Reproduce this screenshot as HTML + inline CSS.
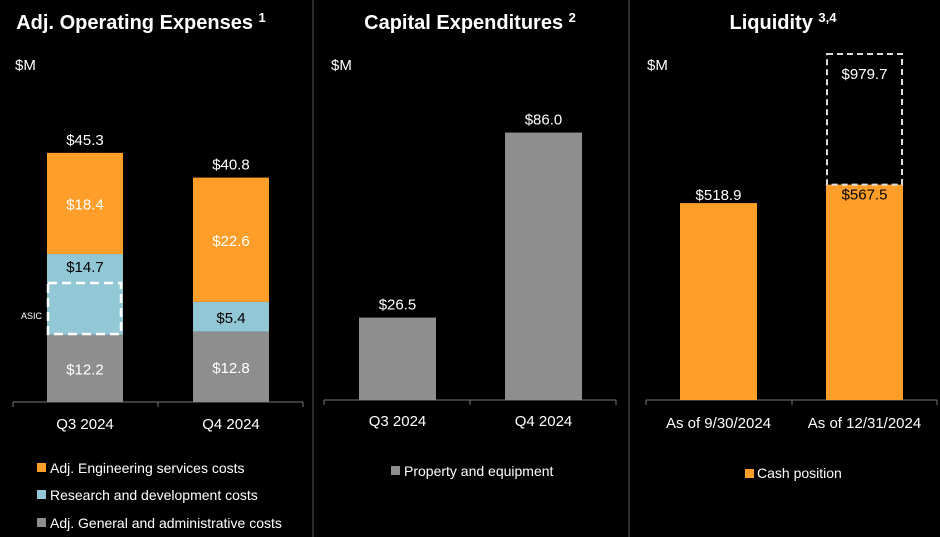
<!DOCTYPE html>
<html><head><meta charset="utf-8"><style>
html,body{margin:0;padding:0;background:#000;}
svg{display:block;font-family:"Liberation Sans",sans-serif;}
</style></head><body>
<svg id="c" width="940" height="537" viewBox="0 0 940 537">
<rect width="940" height="537" fill="#000"/>
<line x1="313" y1="0" x2="313" y2="537" stroke="#3a3a3a" stroke-width="1.5"/>
<line x1="629" y1="0" x2="629" y2="537" stroke="#3a3a3a" stroke-width="1.5"/>
<text x="141" y="29" fill="#fff" font-size="20" font-weight="bold" text-anchor="middle">Adj. Operating Expenses <tspan font-size="13" dy="-7">1</tspan></text>
<text x="470" y="29" fill="#fff" font-size="20" font-weight="bold" text-anchor="middle">Capital Expenditures <tspan font-size="13" dy="-7">2</tspan></text>
<text x="783" y="29" fill="#fff" font-size="20" font-weight="bold" text-anchor="middle">Liquidity <tspan font-size="13" dy="-7">3,4</tspan></text>
<text x="15" y="70" fill="#fff" font-size="15">$M</text>
<text x="331" y="70" fill="#fff" font-size="15">$M</text>
<text x="647" y="70" fill="#fff" font-size="15">$M</text>
<g id="g"></g>
</svg>
<script>
const opexCats=["Q3 2024","Q4 2024"];
const opexGA=[12.2,12.8];
const opexRD=[14.7,5.4];
const opexEng=[18.4,22.6];
const opexTotals=[45.3,40.8];
const capexCats=["Q3 2024","Q4 2024"];
const capexVals=[26.5,86.0];
const liqCats=["As of 9/30/2024","As of 12/31/2024"];
const liqCash=[518.9,567.5];
const liqTotal=[null,979.7];

const NS="http://www.w3.org/2000/svg";
const g=document.getElementById('g');
function el(tag,attrs,txt){const e=document.createElementNS(NS,tag);for(const k in attrs)e.setAttribute(k,attrs[k]);if(txt!=null)e.textContent=txt;g.appendChild(e);return e;}
const OR="#FF9F2A",BL="#92C8D6",GR="#8E8E8E";

// Panel 1
const b1=402,s1=5.5;const y1=v=>b1-v*s1;const x1=[47,193],w1=76;
el('line',{x1:13,y1:b1,x2:303,y2:b1,stroke:'#777',});
[13,158,303].forEach(x=>el('line',{x1:x,y1:b1,x2:x,y2:b1+5,stroke:'#777',}));
opexCats.forEach((c,i)=>{
  const x=x1[i];let cum=0;
  [[opexGA,GR,'ga','#fff'],[opexRD,BL,'rd','#000'],[opexEng,OR,'eng','#fff']].forEach(([arr,col,nm,tc])=>{
    const v=arr[i];const top=y1(cum+v),bot=y1(cum);
    const r=el('rect',{x:x,y:top,width:w1,height:bot-top,fill:col});
    
    
    const t=el('text',{x:x+w1/2,y:(nm==='rd'&&i===0)?top+18:(top+bot)/2+6,fill:tc,'font-size':15,'text-anchor':'middle'},'$'+v.toFixed(1));
    
    
    cum+=v;
  });
  const tt=el('text',{x:x+w1/2,y:y1(opexTotals[i])-8,fill:'#fff','font-size':15,'text-anchor':'middle'},'$'+opexTotals[i].toFixed(1));
  
  
  const cl=el('text',{x:x+w1/2,y:429,fill:'#fff','font-size':15,'text-anchor':'middle'},c);
  
  
});
const asic=el('rect',{x:48,y:283,width:73,height:51,fill:'none',stroke:'#fff','stroke-width':2.5,'stroke-dasharray':'9,5'});


const at=el('text',{x:21,y:319,fill:'#fff','font-size':9},'ASIC');


[["Adj. Engineering services costs",OR,473],["Research and development costs",BL,500],["Adj. General and administrative costs",GR,528]].forEach(([t,c,y])=>{
  const s=el('rect',{x:37,y:y-10,width:9,height:9,fill:c});
  
  
  const tx=el('text',{x:50,y:y,fill:'#fff','font-size':14},t);
  
  
});

// Panel 2
const b2=400,s2=3.11;const y2=v=>b2-v*s2;const x2=[359,505],w2=77;
el('line',{x1:324,y1:b2,x2:616,y2:b2,stroke:'#777',});
[324,470,616].forEach(x=>el('line',{x1:x,y1:b2,x2:x,y2:b2+5,stroke:'#777',}));
capexCats.forEach((c,i)=>{
  const r=el('rect',{x:x2[i],y:y2(capexVals[i]),width:w2,height:capexVals[i]*s2,fill:GR});
  
  
  const t=el('text',{x:x2[i]+w2/2,y:y2(capexVals[i])-8,fill:'#fff','font-size':15,'text-anchor':'middle'},'$'+capexVals[i].toFixed(1));
  
  
  const cl=el('text',{x:x2[i]+w2/2,y:426,fill:'#fff','font-size':15,'text-anchor':'middle'},c);
  
  
});
{const s=el('rect',{x:391,y:466,width:9,height:9,fill:GR});


const tx=el('text',{x:404,y:476,fill:'#fff','font-size':14},'Property and equipment');

}

// Panel 3
const b3=400,s3=0.3795;const y3=v=>b3-v*s3;const x3=[680,826],w3=77;
el('line',{x1:646,y1:b3,x2:937,y2:b3,stroke:'#777',});
[646,792,937].forEach(x=>el('line',{x1:x,y1:b3,x2:x,y2:b3+5,stroke:'#777',}));
liqCats.forEach((c,i)=>{
  const r=el('rect',{x:x3[i],y:y3(liqCash[i]),width:w3,height:liqCash[i]*s3,fill:OR});
  
  
  const t=el('text',{x:x3[i]+w3/2,y:y3(liqCash[i])+(liqTotal[i]?15:-3),fill:liqTotal[i]?'#000':'#fff','font-size':15,'text-anchor':'middle'},'$'+liqCash[i].toFixed(1));
  
  
  if(liqTotal[i]){
    const top=b3-(liqTotal[i]-liqCash[i])*s3*0.835-(liqCash[i]*s3);
    const d=el('rect',{x:x3[i]+1,y:top,width:w3-2,height:y3(liqCash[i])-top,fill:'none',stroke:'#ddd','stroke-width':2,'stroke-dasharray':'6,4'});
    
    
    const tt=el('text',{x:x3[i]+w3/2,y:top+25,fill:'#fff','font-size':15,'text-anchor':'middle'},'$'+liqTotal[i].toFixed(1));
    
    
  }
  const cl=el('text',{x:x3[i]+w3/2,y:428,fill:'#fff','font-size':15,'text-anchor':'middle'},c);
  
  
});
{const s=el('rect',{x:745,y:469,width:9,height:9,fill:OR});


const tx=el('text',{x:757,y:478,fill:'#fff','font-size':14},'Cash position');

}
</script>
</body></html>
